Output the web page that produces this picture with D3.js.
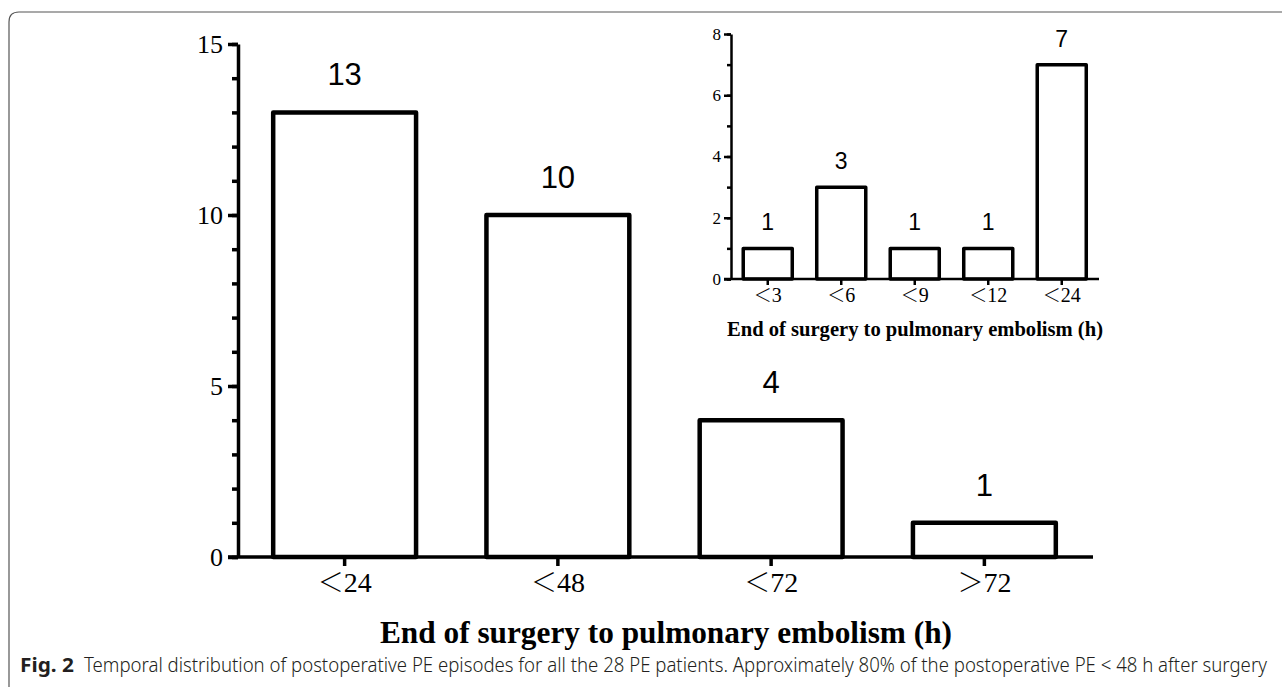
<!DOCTYPE html>
<html>
<head>
<meta charset="utf-8">
<script src="https://cdn.jsdelivr.net/npm/d3@7"></script>
<style>
  body { margin: 0; background: #fff; }
  svg { display: block; }
</style>
</head>
<body>
<div id="chart"></div>
<script>
// main chart data
const mainCategories = ['＜24', '＜48', '＜72', '＞72'];
const mainCounts = [13, 10, 4, 1];
const mainYTicks = [0, 5, 10, 15];

// inset chart data (first 24 h)
const insetCategories = ['＜3', '＜6', '＜9', '＜12', '＜24'];
const insetCounts = [1, 3, 1, 1, 7];
const insetYTicks = [0, 2, 4, 6, 8];

const axisTitle = 'End of surgery to pulmonary embolism (h)';
const captionLead = 'Fig. 2';
const captionText = 'Temporal distribution of postoperative PE episodes for all the 28 PE patients. Approximately 80% of the postoperative PE < 48 h after surgery';

const W = 1282, H = 687;
const serif = "'Liberation Serif', 'Times New Roman', serif";
const cjk = "'Noto Sans CJK SC', sans-serif";
const sans = "'Liberation Sans', Arial, sans-serif";

const svg = d3.select('#chart').append('svg')
  .attr('width', W)
  .attr('height', H);

// thin frame round the figure
svg.append('path')
  .attr('d', 'M9,' + H + ' L9,22 Q9,12 19,12 L' + W + ',12')
  .attr('fill', 'none')
  .attr('stroke', '#555')
  .attr('stroke-width', 1.2);

function drawBars (opts) {
  const g = svg.append('g');
  const x = d3.scaleBand()
    .domain(opts.categories)
    .range(opts.xRange)
    .paddingInner(opts.padInner)
    .paddingOuter(opts.padOuter);
  const y = d3.scaleLinear()
    .domain(opts.yDomain)
    .range(opts.yRange);

  // minor y ticks
  g.append('g')
    .attr('transform', 'translate(' + opts.xRange[0] + ',0)')
    .call(d3.axisLeft(y)
      .tickValues(d3.range(opts.yDomain[0], opts.yDomain[1] + 1, 1))
      .tickSize(opts.minorTick)
      .tickFormat(''))
    .call((a) => a.select('.domain').remove())
    .call((a) => a.selectAll('line').attr('stroke', '#000').attr('stroke-width', opts.axisWidth));

  // major y ticks + axis line
  const yAxis = g.append('g')
    .attr('transform', 'translate(' + opts.xRange[0] + ',0)')
    .call(d3.axisLeft(y)
      .tickValues(opts.yTicks)
      .tickSize(opts.majorTick)
      .tickSizeOuter(0)
      .tickPadding(opts.yPad));
  yAxis.select('.domain').attr('stroke', '#000').attr('stroke-width', opts.axisWidth);
  yAxis.selectAll('line').attr('stroke', '#000').attr('stroke-width', opts.axisWidth);
  yAxis.selectAll('text')
    .attr('font-family', serif)
    .attr('font-size', opts.yFont)
    .attr('fill', '#000');

  // bars
  g.selectAll('rect.bar')
    .data(opts.values)
    .enter().append('rect')
    .attr('class', 'bar')
    .attr('x', (d, i) => x(opts.categories[i]))
    .attr('width', x.bandwidth())
    .attr('y', (d) => y(d))
    .attr('height', (d) => y(0) - y(d))
    .attr('fill', '#fff')
    .attr('stroke', '#000')
    .attr('stroke-width', opts.barWidth)
    .attr('stroke-linejoin', 'round');

  // x axis line (extends a bit left of the y axis)
  g.append('line')
    .attr('x1', opts.xRange[0] - opts.majorTick)
    .attr('x2', opts.xAxisEnd)
    .attr('y1', y(0))
    .attr('y2', y(0))
    .attr('stroke', '#000')
    .attr('stroke-width', opts.axisWidth);

  const xAxis = g.append('g')
    .attr('transform', 'translate(0,' + y(0) + ')')
    .call(d3.axisBottom(x)
      .tickSize(opts.xTick)
      .tickSizeOuter(0)
      .tickPadding(opts.xPad));
  xAxis.select('.domain').remove();
  xAxis.selectAll('line').attr('stroke', '#000').attr('stroke-width', opts.axisWidth);
  // split the full-width sign from the digits so the digits stay serif
  xAxis.selectAll('text')
    .attr('font-size', opts.xFont)
    .attr('fill', '#000')
    .each(function (d) {
      const t = d3.select(this).text(null);
      t.append('tspan')
        .attr('font-family', cjk)
        .attr('font-weight', 300)
        .attr('font-size', opts.xFont)
        .text(d.slice(0, 1));
      t.append('tspan')
        .attr('font-family', serif)
        .attr('font-size', opts.xFont + 2)
        .text(d.slice(1));
    });

  // value labels above bars
  g.selectAll('text.val')
    .data(opts.values)
    .enter().append('text')
    .attr('class', 'val')
    .attr('x', (d, i) => x(opts.categories[i]) + x.bandwidth() / 2)
    .attr('y', (d) => y(d) - opts.labelGap)
    .attr('text-anchor', 'middle')
    .attr('font-family', sans)
    .attr('font-size', opts.valFont)
    .attr('fill', '#000')
    .text((d) => d);

  // axis title
  g.append('text')
    .attr('x', opts.titleX)
    .attr('y', opts.titleY)
    .attr('text-anchor', 'middle')
    .attr('font-family', serif)
    .attr('font-weight', 'bold')
    .attr('font-size', opts.titleFont)
    .attr('textLength', opts.titleLen)
    .attr('lengthAdjust', 'spacingAndGlyphs')
    .text(axisTitle);
}

drawBars({
  categories: mainCategories,
  values: mainCounts,
  yTicks: mainYTicks,
  xRange: [238, 1091],
  padInner: 0.33,
  padOuter: 0.165,
  yDomain: [0, 15],
  yRange: [557, 44],
  xAxisEnd: 1093,
  majorTick: 10,
  minorTick: 6,
  xTick: 9,
  yPad: 5,
  xPad: 8,
  yFont: 26,
  xFont: 26,
  valFont: 31,
  labelGap: 27,
  axisWidth: 3.5,
  barWidth: 4.5,
  titleX: 666,
  titleY: 643,
  titleFont: 31,
  titleLen: 572
});

drawBars({
  categories: insetCategories,
  values: insetCounts,
  yTicks: insetYTicks,
  xRange: [731, 1098.5],
  padInner: 0.333,
  padOuter: 0.1665,
  yDomain: [0, 8],
  yRange: [279, 34],
  xAxisEnd: 1099,
  majorTick: 7,
  minorTick: 4,
  xTick: 6,
  yPad: 3,
  xPad: 4,
  yFont: 17,
  xFont: 18,
  valFont: 23,
  labelGap: 18,
  axisWidth: 2.5,
  barWidth: 3.5,
  titleX: 915,
  titleY: 336,
  titleFont: 21,
  titleLen: 376
});

// caption: squeeze horizontally to the printed width (the original face is condensed)
function squeezedText (str, x0, width, weight) {
  const t = svg.append('text')
    .attr('font-family', "'Noto Sans', sans-serif")
    .attr('font-weight', weight)
    .attr('font-size', 20)
    .attr('fill', '#231f20')
    .text(str);
  const natural = t.node().getComputedTextLength();
  t.attr('transform', 'translate(' + x0 + ',672) scale(' + (width / natural) + ',1)');
  return t;
}

squeezedText(captionLead, 20, 54, 'bold');
squeezedText(captionText, 84, 1184, 300);
</script>
</body>
</html>
